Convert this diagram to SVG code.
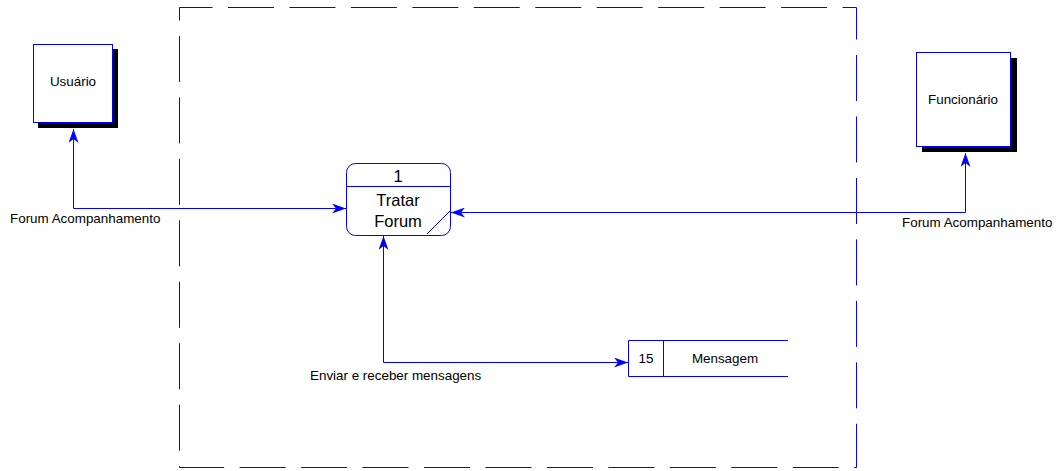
<svg xmlns="http://www.w3.org/2000/svg" width="1063" height="471" viewBox="0 0 1063 471">
<style>
text{font-family:"Liberation Sans",Arial,sans-serif;fill:#000}
.lbl{font-size:13.4px}
.big{font-size:16.5px}
.ln{fill:none;stroke:#0000ff;stroke-width:1}
.box{fill:#fff;stroke:#0000ff;stroke-width:1}
.shadow{fill:#000}
</style>
<defs>
<marker id="ah" viewBox="0 0 14 10" refX="14" refY="5" markerWidth="14" markerHeight="10" markerUnits="userSpaceOnUse" orient="auto-start-reverse">
<path d="M0,0 L14,5 L0,10 L4,5 Z" fill="#0000ff"/>
</marker>
</defs>
<rect x="179.5" y="7.5" width="677" height="460" fill="none" stroke="#0000ff" stroke-width="1" stroke-dasharray="46 15.46" stroke-dashoffset="13"/>
<g id="usuario">
<rect class="shadow" x="38" y="49" width="80" height="79"/>
<rect class="box" x="33.5" y="44.5" width="79" height="78"/>
<text class="lbl" x="73" y="86" text-anchor="middle">Usuário</text>
</g>
<g id="funcionario">
<rect class="shadow" x="922" y="58" width="95" height="94"/>
<rect class="box" x="916.5" y="52.5" width="94" height="94"/>
<text class="lbl" x="963" y="104" text-anchor="middle">Funcionário</text>
</g>
<g id="processo">
<rect class="box" x="346.5" y="163.5" width="104" height="72" rx="9" ry="9"/>
<line class="ln" x1="346.5" y1="186.5" x2="450.5" y2="186.5"/>
<line class="ln" x1="427" y1="234" x2="450" y2="211"/>
<text class="big" x="398" y="182" text-anchor="middle">1</text>
<text class="big" x="398" y="206" text-anchor="middle">Tratar</text>
<text class="big" x="398" y="227" text-anchor="middle">Forum</text>
</g>
<g id="mensagem">
<path class="ln" d="M788,340.5 H628.5 V376.5 H788 M663.5,340.5 V376.5"/>
<text class="lbl" x="646" y="363" text-anchor="middle">15</text>
<text class="lbl" x="725" y="363" text-anchor="middle">Mensagem</text>
</g>
<g id="connectors">
<path class="ln" d="M73.5,129 V208.5 H346" marker-start="url(#ah)" marker-end="url(#ah)"/>
<path class="ln" d="M965.5,153 V212.5 H451" marker-start="url(#ah)" marker-end="url(#ah)"/>
<path class="ln" d="M383.5,236 V362.5 H628" marker-start="url(#ah)" marker-end="url(#ah)"/>
<text class="lbl" x="10" y="223">Forum Acompanhamento</text>
<text class="lbl" x="902" y="227">Forum Acompanhamento</text>
<text class="lbl" x="310" y="380">Enviar e receber mensagens</text>
</g>
</svg>
